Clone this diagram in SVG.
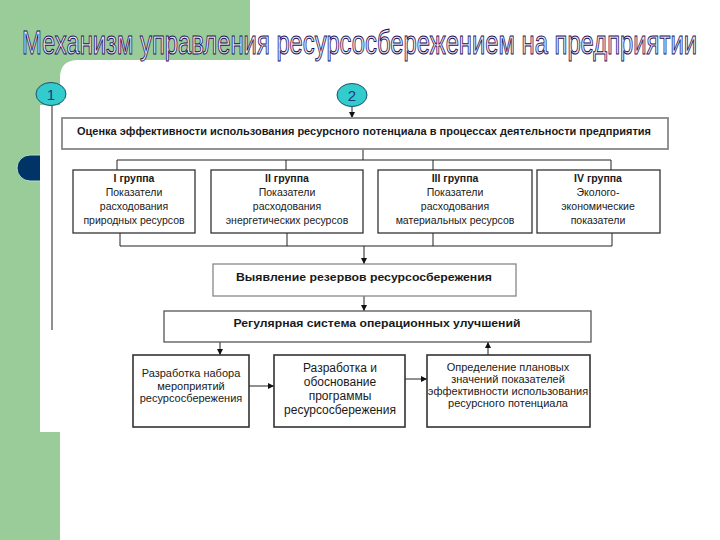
<svg xmlns="http://www.w3.org/2000/svg" width="720" height="540" viewBox="0 0 720 540">
<style>
.box{fill:#fff;stroke:#333;stroke-width:1.3}
.gbox{fill:#fff;stroke:#888;stroke-width:1.8}
.t{font-family:"Liberation Sans",Arial,sans-serif;fill:#1a1a1a;text-anchor:middle}
.b{font-weight:bold}
.ln{stroke:#222;stroke-width:1;fill:none}
.arr{stroke:#222;stroke-width:1;fill:none;marker-end:url(#ah)}
.num{fill:#33cccc;stroke:#1d4f6e;stroke-width:1}
.numt{font-family:"Liberation Sans",Arial,sans-serif;font-size:15px;fill:#1a3a80;text-anchor:middle}
</style>
<defs>
<marker id="ah" viewBox="0 0 10 10" refX="10" refY="5" markerWidth="6" markerHeight="6" markerUnits="userSpaceOnUse" orient="auto">
<path d="M0,0 L10,5 L0,10 z" fill="#111"/>
</marker>
</defs>
<g id="background">
<rect x="0" y="0" width="720" height="540" fill="#99cc99"/>
<path d="M250,0 H720 V540 H60 V78 Q60,60 78,60 H250 Z" fill="#fff"/>
<rect x="17" y="155" width="50" height="26" rx="13" fill="#003366" stroke="#b8dccb" stroke-width="1"/>
<rect x="40" y="105" width="30" height="327" fill="#fff"/>
</g>
<g id="title">
<text x="22" y="54" textLength="675" lengthAdjust="spacingAndGlyphs" font-family="'Liberation Sans',Arial,sans-serif" font-size="33" fill="#efeaf8" stroke="#1c0f57" stroke-width="1">Механизм управления ресурсосбережением на предприятии</text>
</g>
<g id="connectors">
<line class="ln" x1="52" y1="106" x2="52" y2="330"/>
<line class="arr" x1="352" y1="106" x2="352" y2="118"/>
<polyline class="ln" points="363,149 363,160"/>
<polyline class="ln" points="117,170 117,160 611,160 611,170"/>
<line class="ln" x1="286" y1="160" x2="286" y2="170"/>
<line class="ln" x1="433" y1="160" x2="433" y2="170"/>
<polyline class="ln" points="120,233 120,246 612,246 612,233"/>
<line class="ln" x1="287" y1="233" x2="287" y2="246"/>
<line class="ln" x1="433" y1="233" x2="433" y2="246"/>
<line class="arr" x1="364" y1="246" x2="364" y2="264"/>
<line class="arr" x1="364" y1="296" x2="364" y2="311"/>
<line class="arr" x1="220" y1="342" x2="220" y2="355"/>
<line class="arr" x1="488" y1="355" x2="488" y2="342"/>
<line class="arr" x1="249" y1="386" x2="274" y2="386"/>
<line class="arr" x1="405" y1="379" x2="427" y2="379"/>
</g>
<g id="marker1">
<ellipse class="num" cx="51" cy="94" rx="15" ry="11.5"/>
<text class="numt" x="51" y="99.5">1</text>
</g>
<g id="marker2">
<ellipse class="num" cx="352" cy="95" rx="15" ry="11.5"/>
<text class="numt" x="352" y="100.5">2</text>
</g>
<g id="assessment">
<rect class="gbox" x="62" y="118" width="606" height="31"/>
<text class="t b" x="364" y="135" font-size="10.5" textLength="574" lengthAdjust="spacingAndGlyphs">Оценка эффективности использования ресурсного потенциала в процессах деятельности предприятия</text>
</g>
<g id="group1">
<rect class="box" x="73" y="170" width="122" height="63"/>
<text class="t" x="134" font-size="10.5"><tspan class="b" x="134" y="182">I группа</tspan><tspan x="134" y="196">Показатели</tspan><tspan x="134" y="210">расходования</tspan><tspan x="134" y="224">природных ресурсов</tspan></text>
</g>
<g id="group2">
<rect class="box" x="211" y="170" width="152" height="63"/>
<text class="t" x="287" font-size="10.5"><tspan class="b" x="287" y="182">II группа</tspan><tspan x="287" y="196">Показатели</tspan><tspan x="287" y="210">расходования</tspan><tspan x="287" y="224">энергетических ресурсов</tspan></text>
</g>
<g id="group3">
<rect class="box" x="378" y="170" width="154" height="63"/>
<text class="t" x="455" font-size="10.5"><tspan class="b" x="455" y="182">III группа</tspan><tspan x="455" y="196">Показатели</tspan><tspan x="455" y="210">расходования</tspan><tspan x="455" y="224">материальных ресурсов</tspan></text>
</g>
<g id="group4">
<rect class="box" x="537" y="170" width="123" height="63"/>
<text class="t" x="598" font-size="10.5"><tspan class="b" x="598" y="182">IV группа</tspan><tspan x="598" y="196">Эколого-</tspan><tspan x="598" y="210">экономические</tspan><tspan x="598" y="224">показатели</tspan></text>
</g>
<g id="reserves">
<rect class="gbox" x="213" y="264" width="303" height="32" style="stroke-width:1.3"/>
<text class="t b" x="364" y="281" font-size="10.5" textLength="256" lengthAdjust="spacingAndGlyphs">Выявление резервов ресурсосбережения</text>
</g>
<g id="regular">
<rect class="box" x="164" y="311" width="427" height="31" style="stroke:#555"/>
<text class="t b" x="377" y="327" font-size="10.5" textLength="287" lengthAdjust="spacingAndGlyphs">Регулярная система операционных улучшений</text>
</g>
<g id="measures">
<rect class="box" x="133" y="355" width="116" height="72" style="stroke-width:1.6"/>
<text class="t" x="191" font-size="11"><tspan x="191" y="377">Разработка набора</tspan><tspan x="191" y="390">мероприятий</tspan><tspan x="191" y="402">ресурсосбережения</tspan></text>
</g>
<g id="program">
<rect class="box" x="274" y="355" width="131" height="72" style="stroke-width:1.6"/>
<text class="t" x="340" font-size="12"><tspan x="340" y="372">Разработка и</tspan><tspan x="340" y="386">обоснование</tspan><tspan x="340" y="400">программы</tspan><tspan x="340" y="414">ресурсосбережения</tspan></text>
</g>
<g id="planned">
<rect class="box" x="427" y="355" width="163" height="72" style="stroke-width:1.6"/>
<text class="t" x="508" font-size="11"><tspan x="508" y="371">Определение плановых</tspan><tspan x="508" y="383">значений показателей</tspan><tspan x="508" y="395">эффективности использования</tspan><tspan x="508" y="407">ресурсного потенциала</tspan></text>
</g>
</svg>
